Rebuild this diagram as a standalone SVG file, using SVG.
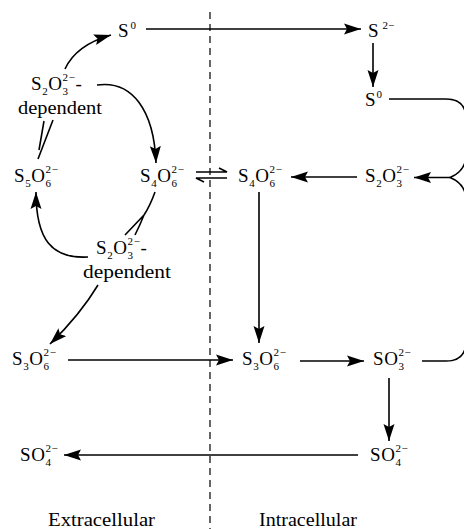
<svg xmlns="http://www.w3.org/2000/svg" width="464" height="529" viewBox="0 0 464 529">
<style>
text{font-family:"Liberation Serif","Times New Roman",serif;font-size:19px;fill:#000}
.f{letter-spacing:0.6px}
.b{font-size:11px}
.p{font-size:11px}
.ln{fill:none;stroke:#000;stroke-width:1.6}
.ar{marker-end:url(#ah)}
</style>
<defs>
<marker id="ah" markerUnits="userSpaceOnUse" markerWidth="18" markerHeight="12" refX="17" refY="6" orient="auto">
<path d="M0,0.5 L17,6 L0,11.5 L3,6 z" fill="#000"/>
</marker>
</defs>
<rect width="464" height="529" fill="#fff"/>
<line x1="210" y1="12" x2="210" y2="529" stroke="#000" stroke-width="1.2" stroke-dasharray="7,5"/>
<g id="connectors">
<path class="ln ar" d="M146,29 L361,29"/>
<path class="ln ar" d="M373,43 L373,87"/>
<path class="ln" d="M389,99 L446,99 Q466,99 466,119 L466,158 Q464,172 450,177.5 Q464,183 466,197 L466,341 Q466,361 446,361 L422,361"/>
<path class="ln ar" d="M450,177.5 L414,177.5"/>
<path class="ln ar" d="M357,177 L291,177"/>
<path class="ln ar" d="M259,192 L259,343"/>
<path class="ln ar" d="M68,360 L233,360"/>
<path class="ln ar" d="M300,361 L364,361"/>
<path class="ln ar" d="M389,378 L389,441"/>
<path class="ln ar" d="M358,455 L64,455"/>
<path class="ln" d="M196,172 L227,172 L219,168"/>
<path class="ln" d="M227,178 L196,178 L204,182"/>
<path class="ln ar" d="M65,69 Q76,45 111,35"/>
<path class="ln ar" d="M97,85 C132,80 154,110 156,163"/>
<path class="ln" d="M38,159 L53,120 M39,150 L44,121"/>
<path class="ln ar" d="M88,257 C52,259 36,240 36,192"/>
<path class="ln" d="M155,192 Q150,206 144,215 L125,235 M144,215 Q140,225 135,235"/>
<path class="ln ar" d="M98,285 Q80,315 50,344"/>
</g>
<g id="n-s0-ext"><text x="118" y="37">S<tspan class="p" dx="2" dy="-8">0</tspan></text></g>
<g id="n-s2-"><text x="368" y="37">S<tspan class="p" dx="4" dy="-8">2−</tspan></text></g>
<g id="n-s0-int"><text x="365" y="106">S<tspan class="p" dx="1" dy="-8">0</tspan></text></g>
<g id="n-dep1"><text class="f" x="31" y="90">S<tspan class="b" dy="4.5">2</tspan><tspan dy="-4.5">O</tspan><tspan class="b" dy="4.5">3</tspan><tspan class="p" dx="-6.1" dy="-13.5">2−</tspan><tspan dy="9">-</tspan></text>
<text x="18" y="114" textLength="84" lengthAdjust="spacingAndGlyphs">dependent</text></g>
<g id="n-s5o6"><text class="f" x="14" y="182">S<tspan class="b" dy="4.5">5</tspan><tspan dy="-4.5">O</tspan><tspan class="b" dy="4.5">6</tspan><tspan class="p" dx="-6.1" dy="-13.5">2−</tspan></text></g>
<g id="n-s4o6-ext"><text class="f" x="140" y="182">S<tspan class="b" dy="4.5">4</tspan><tspan dy="-4.5">O</tspan><tspan class="b" dy="4.5">6</tspan><tspan class="p" dx="-6.1" dy="-13.5">2−</tspan></text></g>
<g id="n-dep2"><text class="f" x="96" y="254">S<tspan class="b" dy="4.5">2</tspan><tspan dy="-4.5">O</tspan><tspan class="b" dy="4.5">3</tspan><tspan class="p" dx="-6.1" dy="-13.5">2−</tspan><tspan dy="9">-</tspan></text>
<text x="83" y="278" textLength="88" lengthAdjust="spacingAndGlyphs">dependent</text></g>
<g id="n-s4o6-int"><text class="f" x="238" y="182">S<tspan class="b" dy="4.5">4</tspan><tspan dy="-4.5">O</tspan><tspan class="b" dy="4.5">6</tspan><tspan class="p" dx="-6.1" dy="-13.5">2−</tspan></text></g>
<g id="n-s2o3-int"><text class="f" x="365" y="182">S<tspan class="b" dy="4.5">2</tspan><tspan dy="-4.5">O</tspan><tspan class="b" dy="4.5">3</tspan><tspan class="p" dx="-6.1" dy="-13.5">2−</tspan></text></g>
<g id="n-s3o6-ext"><text class="f" x="12" y="365">S<tspan class="b" dy="4.5">3</tspan><tspan dy="-4.5">O</tspan><tspan class="b" dy="4.5">6</tspan><tspan class="p" dx="-6.1" dy="-13.5">2−</tspan></text></g>
<g id="n-s3o6-int"><text class="f" x="242" y="365">S<tspan class="b" dy="4.5">3</tspan><tspan dy="-4.5">O</tspan><tspan class="b" dy="4.5">6</tspan><tspan class="p" dx="-6.1" dy="-13.5">2−</tspan></text></g>
<g id="n-so3"><text class="f" x="373" y="365">SO<tspan class="b" dy="4.5">3</tspan><tspan class="p" dx="-6.1" dy="-13.5">2−</tspan></text></g>
<g id="n-so4-int"><text class="f" x="370" y="461">SO<tspan class="b" dy="4.5">4</tspan><tspan class="p" dx="-6.1" dy="-13.5">2−</tspan></text></g>
<g id="n-so4-ext"><text class="f" x="20" y="461">SO<tspan class="b" dy="4.5">4</tspan><tspan class="p" dx="-6.1" dy="-13.5">2−</tspan></text></g>
<g id="l-ext"><text x="48" y="526" textLength="107" lengthAdjust="spacingAndGlyphs">Extracellular</text></g>
<g id="l-int"><text x="259" y="526" textLength="98" lengthAdjust="spacingAndGlyphs">Intracellular</text></g>
</svg>
